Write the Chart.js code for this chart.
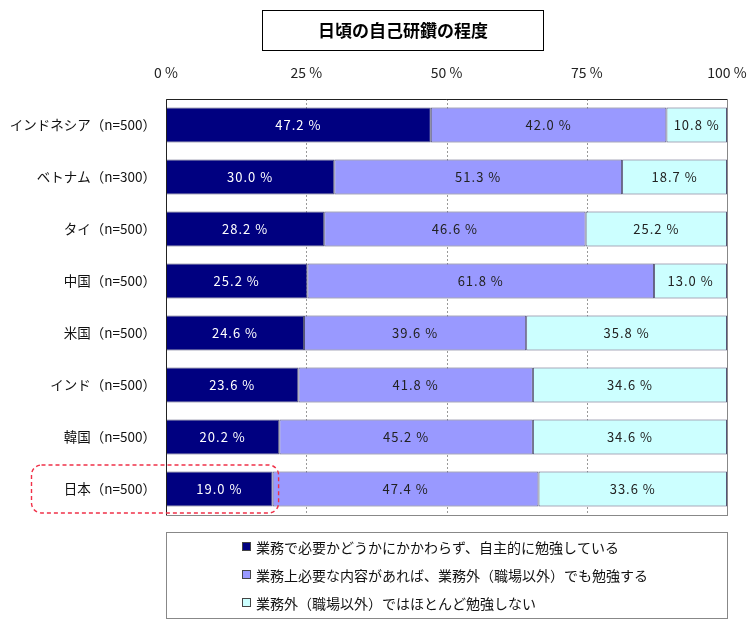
<!DOCTYPE html>
<html>
<head>
<meta charset="utf-8">
<script src="https://cdn.jsdelivr.net/npm/chart.js@4"></script>
<style>
  html, body { margin: 0; padding: 0; background: #fff; }
  #wrap { width: 754px; height: 625px; }
</style>
</head>
<body>
<div id="wrap"><canvas id="chart" width="754" height="625"></canvas></div>
<script>
const countries = ['インドネシア（n=500）', 'ベトナム（n=300）', 'タイ（n=500）', '中国（n=500）', '米国（n=500）', 'インド（n=500）', '韓国（n=500）', '日本（n=500）'];
const selfStudy = [47.2, 30.0, 28.2, 25.2, 24.6, 23.6, 20.2, 19.0];
const ifNeeded = [42.0, 51.3, 46.6, 61.8, 39.6, 41.8, 45.2, 47.4];
const rarely = [10.8, 18.7, 25.2, 13.0, 35.8, 34.6, 34.6, 33.6];
const seriesNames = [
  '業務で必要かどうかにかかわらず、自主的に勉強している',
  '業務上必要な内容があれば、業務外（職場以外）でも勉強する',
  '業務外（職場以外）ではほとんど勉強しない'
];
const xTicks = [0, 25, 50, 75, 100];
const chartTitle = '日頃の自己研鑽の程度';

const FONT = '"Noto Sans CJK JP", "Noto Sans", sans-serif';
const colors = ['#000080', '#9999ff', '#ccffff'];
const labelColors = ['#ffffff', '#222222', '#222222'];

// box around plot, dotted grid, title box, legend box, highlight
const decor = {
  id: 'decor',
  beforeDatasetsDraw(chart) {
    const { ctx, chartArea: a, scales: { x } } = chart;
    ctx.save();
    ctx.strokeStyle = '#999';
    ctx.lineWidth = 1;
    ctx.setLineDash([2, 2]);
    [25, 50, 75].forEach(v => {
      const px = Math.round(x.getPixelForValue(v)) + 0.5;
      ctx.beginPath();
      ctx.moveTo(px, a.top);
      ctx.lineTo(px, a.bottom);
      ctx.stroke();
    });
    ctx.restore();
  },
  afterDatasetsDraw(chart) {
    const { ctx, chartArea: a, scales: { x, y } } = chart;
    ctx.save();
    // plot frame
    ctx.lineWidth = 1;
    ctx.strokeStyle = '#888';
    ctx.strokeRect(Math.round(a.left) + 0.5, Math.round(a.top) + 0.5, Math.round(a.right - a.left), Math.round(a.bottom - a.top));
    ctx.strokeStyle = '#222';
    ctx.beginPath();
    ctx.moveTo(Math.round(a.left) + 0.5, Math.round(a.bottom));
    ctx.lineTo(Math.round(a.left) + 0.5, Math.round(a.top) + 0.5);
    ctx.lineTo(Math.round(a.right), Math.round(a.top) + 0.5);
    ctx.stroke();

    // value labels
    ctx.font = '13px ' + FONT;
    ctx.letterSpacing = '1px';
    ctx.textAlign = 'center';
    ctx.textBaseline = 'middle';
    chart.data.datasets.forEach((ds, di) => {
      const meta = chart.getDatasetMeta(di);
      meta.data.forEach((bar, i) => {
        const cx = (bar.x + bar.base) / 2;
        ctx.fillStyle = labelColors[di];
        ctx.fillText(ds.data[i].toFixed(1) + ' %', cx, bar.y);
      });
    });
    ctx.letterSpacing = '0px';

    // title box
    ctx.strokeStyle = '#000';
    ctx.strokeRect(262.5, 10.5, 281, 40);
    ctx.fillStyle = '#000';
    ctx.font = 'bold 17px ' + FONT;
    ctx.fillText(chartTitle, 403, 31);

    // legend box
    ctx.strokeStyle = '#888';
    ctx.strokeRect(Math.round(a.left) + 0.5, 532.5, Math.round(a.right - a.left), 86);
    ctx.font = '14px ' + FONT;
    ctx.textAlign = 'left';
    seriesNames.forEach((name, i) => {
      const ly = 547 + i * 28;
      ctx.fillStyle = colors[i];
      ctx.fillRect(242, ly - 5, 9, 9);
      ctx.strokeStyle = '#444';
      ctx.strokeRect(242.5, ly - 4.5, 8, 8);
      ctx.fillStyle = '#111';
      ctx.fillText(name, 256, ly + 1);
    });

    // red dashed highlight around Japan
    const jy = y.getPixelForValue(countries.length - 1);
    const jr = x.getPixelForValue(selfStudy[selfStudy.length - 1]) + 6;
    ctx.strokeStyle = '#f03048';
    ctx.lineWidth = 1.4;
    ctx.setLineDash([4, 3]);
    ctx.beginPath();
    ctx.roundRect(31.5, jy - 24, jr - 31.5, 48, 10);
    ctx.stroke();
    ctx.restore();
  }
};

const datasets = [selfStudy, ifNeeded, rarely].map((d, i) => ({
  label: seriesNames[i],
  data: d,
  backgroundColor: colors[i],
  borderColor: '#555577',
  borderWidth: 1,
  borderSkipped: false,
  categoryPercentage: 1,
  barPercentage: 0.67
}));

new Chart(document.getElementById('chart'), {
  type: 'bar',
  data: { labels: countries, datasets },
  plugins: [decor],
  options: {
    indexAxis: 'y',
    responsive: false,
    animation: false,
    layout: { padding: { left: 0, right: 27, top: 0, bottom: 110 } },
    plugins: {
      legend: { display: false },
      tooltip: { enabled: false },
      title: { display: false }
    },
    scales: {
      x: {
        position: 'top',
        stacked: true,
        min: 0,
        max: 100,
        afterFit(s) { s.height = 99; s.paddingLeft = 0; s.paddingRight = 0; },
        afterBuildTicks(s) { s.ticks = xTicks.map(v => ({ value: v })); },
        grid: { display: false, drawTicks: false },
        border: { display: false },
        ticks: {
          padding: 18,
          color: '#222',
          font: { family: FONT, size: 14 },
          callback: v => v + ' %'
        }
      },
      y: {
        stacked: true,
        afterFit(s) { s.width = 166; },
        grid: { display: false, drawTicks: false },
        border: { display: false },
        ticks: {
          padding: 10,
          color: '#111',
          font: { family: FONT, size: 13.5 }
        }
      }
    }
  }
});
</script>
</body>
</html>
